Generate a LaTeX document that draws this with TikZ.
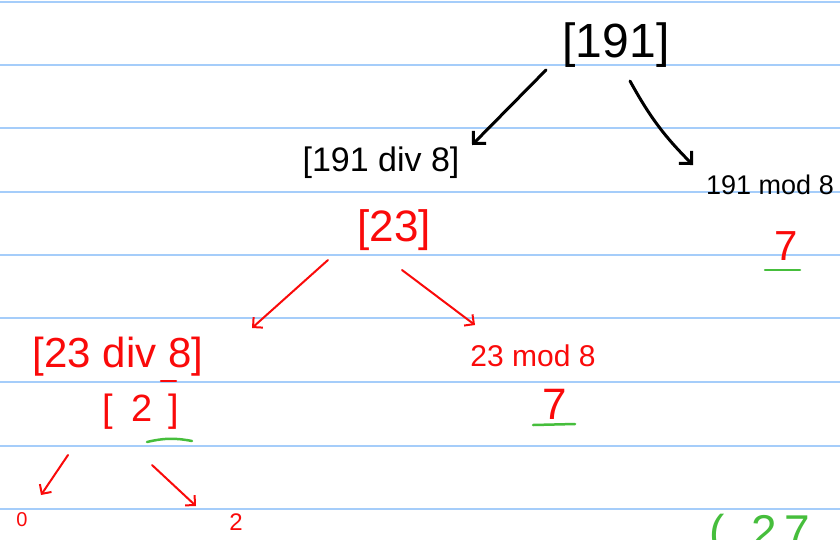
\documentclass[tikz,border=0pt]{standalone}
\usepackage{fontspec}
\setmainfont{Liberation Sans}
\usetikzlibrary{arrows.meta}
\definecolor{ruleblue}{RGB}{165,205,250}
\definecolor{inkred}{RGB}{250,10,10}
\definecolor{inkgreen}{RGB}{70,190,60}
\newcommand{\fs}[1]{\fontsize{#1}{#1}\selectfont}
\tikzset{
  lbl/.style={inner sep=0pt, anchor=center},
  blk/.style={lbl, text=black},
  rd/.style={lbl, text=inkred},
  gr/.style={lbl, text=inkgreen},
  blkarrow/.style={line width=3pt, black, line cap=round, line join=round,
    -{Straight Barb[length=9pt,width=18pt,line width=3pt]}},
  redarrow/.style={line width=2pt, inkred, line cap=round, line join=round,
    -{Straight Barb[length=7pt,width=14pt,line width=2pt]}},
  uline/.style={line width=2.5pt, inkgreen, line cap=round},
  rule/.style={line width=1.8pt, ruleblue}
}
\begin{document}
\begin{tikzpicture}[x=1pt,y=-1pt]
\useasboundingbox (0,0) rectangle (840,539);
\fill[white] (0,0) rectangle (840,539);
\clip (0,0) rectangle (840,539);
% ruled paper
\foreach \yy in {2,65,128,192,255,318,382,446,509}
  \draw[rule] (0,\yy) -- (840,\yy);

% black nodes
\node[blk] (root) at (616,45) {\fs{48}[191]};
\node[blk] (ldiv) at (381,163) {\fs{34}[191 div 8]};
\node[blk] (rmod) at (770,185) {\fs{27}191 mod 8};

% red nodes
\node[rd] (r23) at (394,230) {\fs{44}[23]};
\node[rd] (r7a) at (786,246) {\fs{42}7};
\node[rd] (ddiv) at (118,357) {\fs{42}[23 div 8]};
\node[rd] (dmod) at (533,356) {\fs{30}23 mod 8};
\node[rd] (r2) at (141,412) {\fs{38}[\hspace{18pt}2\hspace{16pt}]};
\node[rd] (r7b) at (555,404) {\fs{44}7};
\node[rd] (z0) at (22,520) {\fs{20}0};
\node[rd] (z2) at (236,522) {\fs{24}2};
\node[gr] (gtail) at (760,536) {\fs{46}(\hspace{26pt}2\hspace{8pt}7};

% small red dash under the 8
\draw[line width=2.5pt, inkred, line cap=round] ([shift={(43,24)}]ddiv.center) -- ([shift={(58,24)}]ddiv.center);

% green underlines
\draw[uline] ([shift={(-21,24)}]r7a.center) -- ([shift={(14,24)}]r7a.center);
\draw[uline] ([shift={(-22,21)}]r7b.center) -- ([shift={(20,20)}]r7b.center);
\draw[uline] ([shift={(6,30)}]r2.center) to[bend left=12] ([shift={(51,29)}]r2.center);

% black arrows
\draw[blkarrow] ([shift={(-70,25)}]root.center) -- ([shift={(91,-18)}]ldiv.center);
\draw[blkarrow] ([shift={(14,36)}]root.center) to[bend right=8] ([shift={(-77,-20)}]rmod.center);

% red arrows
\draw[redarrow] ([shift={(-66,30)}]r23.center) -- ([shift={(-142,98)}]r23.center);
\draw[redarrow] ([shift={(8,40)}]r23.center) -- ([shift={(81,95)}]r23.center);
\draw[redarrow] ([shift={(-73,43)}]r2.center) -- ([shift={(-100,83)}]r2.center);
\draw[redarrow] ([shift={(11,53)}]r2.center) -- ([shift={(55,94)}]r2.center);
\end{tikzpicture}
\end{document}
